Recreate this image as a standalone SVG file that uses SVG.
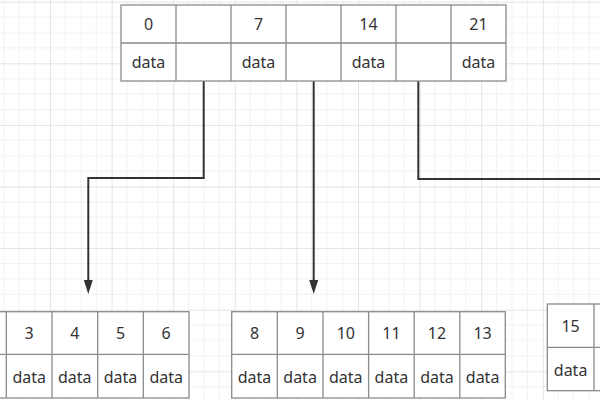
<svg xmlns="http://www.w3.org/2000/svg" width="600" height="400" viewBox="0 0 600 400">
<defs>
<pattern id="grid" patternUnits="userSpaceOnUse" x="50" y="63.3" width="61.6" height="61.6">
<path d="M15.4 0V61.6M30.8 0V61.6M46.2 0V61.6M0 15.4H61.6M0 30.8H61.6M0 46.2H61.6" stroke="#f1f1f1" stroke-width="1" fill="none"/>
<path d="M0.5 0V61.6M0 0.5H61.6" stroke="#e4e4e4" stroke-width="1" fill="none"/>
</pattern>
<marker id="arr" viewBox="0 0 10 14" refX="5" refY="13" markerWidth="10" markerHeight="14" markerUnits="userSpaceOnUse" orient="auto-start-reverse">
<path d="M0.5 0 L5 13 L9.5 0 Z" fill="#333" transform="rotate(0)"/>
</marker>
<style>
.cell{fill:#fff;stroke:#8a8a8a;stroke-width:1.3}
.t{font-family:"Noto Sans","Open Sans",sans-serif;font-size:16px;fill:#333;text-anchor:middle}
.c{fill:none;stroke:#333;stroke-width:2}
</style>
</defs>
<rect width="600" height="400" fill="#fff"/>
<rect width="600" height="400" fill="url(#grid)"/>

<g id="connectors">
<path class="c" d="M203.7 81V178H88.3V282"/>
<path d="M83.8 280L88.3 294L92.8 280Z" fill="#333"/>
<path class="c" d="M313.7 81V282"/>
<path d="M309.2 280L313.7 294L318.2 280Z" fill="#333"/>
<path class="c" d="M418.3 81V179H602"/>
</g>

<g id="top-node">
<rect class="cell" x="121" y="5" width="385" height="76"/>
<path class="cell" d="M121 43H506M176 5V81M231 5V81M286 5V81M341 5V81M396 5V81M451 5V81"/>
<text class="t" x="148.5" y="30">0</text>
<text class="t" x="258.5" y="30">7</text>
<text class="t" x="368.5" y="30">14</text>
<text class="t" x="478.5" y="30">21</text>
<text class="t" x="148.5" y="68">data</text>
<text class="t" x="258.5" y="68">data</text>
<text class="t" x="368.5" y="68">data</text>
<text class="t" x="478.5" y="68">data</text>
</g>

<g id="left-node">
<rect class="cell" x="-50" y="311.7" width="239" height="86.3"/>
<path class="cell" d="M-50 354.3H189M6.3 311.7V398M52 311.7V398M97.7 311.7V398M143.3 311.7V398"/>
<text class="t" x="29.2" y="339">3</text>
<text class="t" x="74.8" y="339">4</text>
<text class="t" x="120.5" y="339">5</text>
<text class="t" x="166.2" y="339">6</text>
<text class="t" x="29.2" y="383">data</text>
<text class="t" x="74.8" y="383">data</text>
<text class="t" x="120.5" y="383">data</text>
<text class="t" x="166.2" y="383">data</text>
</g>

<g id="middle-node">
<rect class="cell" x="231.7" y="311.7" width="273.6" height="86.3"/>
<path class="cell" d="M231.7 354.3H505.3M277.3 311.7V398M323 311.7V398M368.6 311.7V398M414.2 311.7V398M459.8 311.7V398"/>
<text class="t" x="254.5" y="339">8</text>
<text class="t" x="300.1" y="339">9</text>
<text class="t" x="345.8" y="339">10</text>
<text class="t" x="391.4" y="339">11</text>
<text class="t" x="437" y="339">12</text>
<text class="t" x="482.6" y="339">13</text>
<text class="t" x="254.5" y="383">data</text>
<text class="t" x="300.1" y="383">data</text>
<text class="t" x="345.8" y="383">data</text>
<text class="t" x="391.4" y="383">data</text>
<text class="t" x="437" y="383">data</text>
<text class="t" x="482.6" y="383">data</text>
</g>

<g id="right-node">
<rect class="cell" x="547.3" y="304" width="100" height="86.7"/>
<path class="cell" d="M547.3 347.3H647.3M594 304V390.7"/>
<text class="t" x="570.6" y="332">15</text>
<text class="t" x="570.6" y="376">data</text>
</g>
</svg>
